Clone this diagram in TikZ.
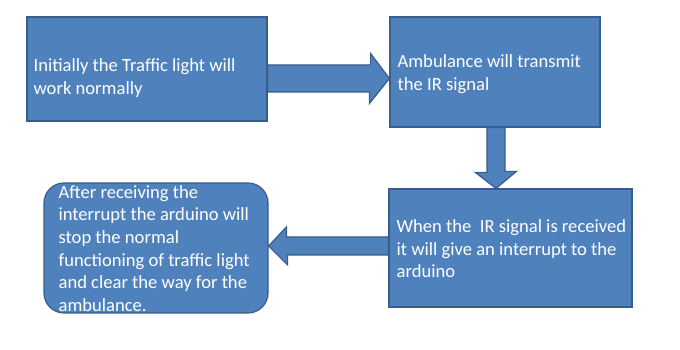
\documentclass[tikz,border=0pt]{standalone}
\usepackage{fontspec}
\setmainfont{Carlito}
\definecolor{boxblue}{HTML}{4F81BD}
\definecolor{boxedge}{HTML}{385D8A}
\tikzset{
  stepbox/.style={draw=boxedge, fill=boxblue, line width=1.2pt, inner sep=0pt},
  blockarrow/.style={draw=boxedge, fill=boxblue, line width=1.2pt, line join=miter},
  txt/.style={text=white, align=left, inner sep=0pt, anchor=west,
    font=\fontsize{18.6}{22.6}\selectfont}
}
\begin{document}
\begin{tikzpicture}[x=1pt,y=1pt]
	\useasboundingbox (0,0) rectangle (680,350);
	% the four steps
	\path (147,281) node[stepbox, minimum width=240pt, minimum height=104pt] (b1) {}
	(495,278) node[stepbox, minimum width=210pt, minimum height=110pt] (b2) {}
	(510.5,102) node[stepbox, minimum width=243pt, minimum height=118pt] (b3) {}
	(156,102) node[stepbox, rounded corners=20pt, minimum width=224pt, minimum height=130pt] (b4) {};
	\node[txt] (t1) at ([xshift=7pt,yshift=-9pt]b1.west) {Initially the Traffic light will\\work normally};
	\node[txt] (t2) at ([xshift=8pt,yshift=-2pt]b2.west) {Ambulance will transmit\\the IR signal};
	\node[txt] (t3) at ([xshift=8pt,yshift=-1pt]b3.west) {When the\ \ IR signal is received\\it will give an interrupt to the\\arduino};
	\node[txt] (t4) at ([xshift=15pt,yshift=-0.5pt]b4.west) {After receiving the\\interrupt the arduino will\\stop the normal\\functioning of traffic light\\and clear the way for the\\ambulance.};
	% block arrows between the steps
	\path (b1.east |- 0,271.5) coordinate (a1)
	(b2.south -| 496,0) coordinate (a2)
	(b3.west |- 0,104) coordinate (a3);
	\draw[blockarrow] ([yshift=13.5pt]a1) -- ++(103,0) -- ++(0,11.5) -- (b2.west |- a1)
	-- ++(-20,-25) -- ++(0,11.5) -- ([yshift=-13.5pt]a1) -- cycle;
	\draw[blockarrow] ([xshift=-9pt]a2) -- ++(0,-45) -- ++(-11.5,0) -- (b3.north -| a2)
	-- ++(20.5,17) -- ++(-11.5,0) -- ([xshift=9pt]a2) -- cycle;
	\draw[blockarrow] ([yshift=9pt]a3) -- ++(-102,0) -- ++(0,10) -- (b4.east |- a3)
	-- ++(19,-19) -- ++(0,10) -- ([yshift=-9pt]a3) -- cycle;
\end{tikzpicture}
\end{document}
